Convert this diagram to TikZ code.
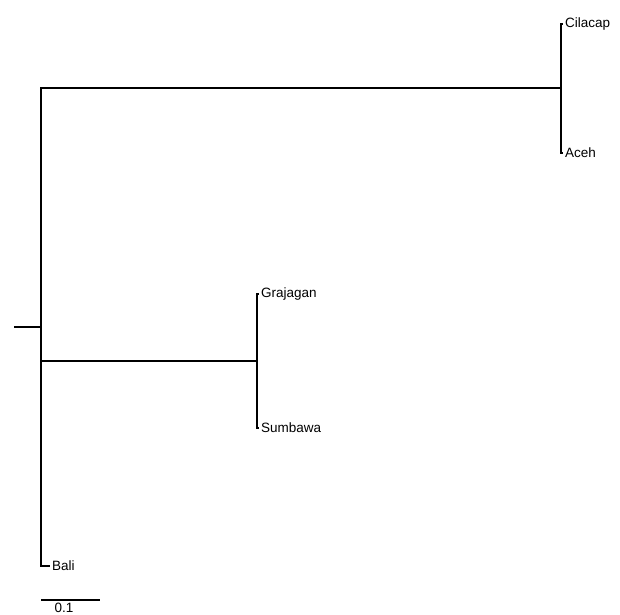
\documentclass[tikz,border=0pt]{standalone}
\usepackage{fontspec}
\setmainfont{Liberation Sans}
\begin{document}
\begin{tikzpicture}[x=1pt,y=1pt,yscale=-1,xscale=1,
  branch/.style={line width=1.3pt},
  leaf/.style={anchor=west, inner sep=2pt, font=\fontsize{13.5}{16}\selectfont}]
\useasboundingbox (0,0) rectangle (620,614);

%Root
\coordinate (stub) at (14,327);
\coordinate (root) at (41,327);
\draw [branch] (stub) -- (root) ;

%Inner nodes
\coordinate (n1) at (561,88);
\coordinate (n2) at (257,361);

%Leaves
\node [leaf] (cilacap) at (563,24) {Cilacap};
\node [leaf] (aceh) at (563,153) {Aceh};
\node [leaf] (grajagan) at (259,294) {Grajagan};
\node [leaf] (sumbawa) at (259,428) {Sumbawa};
\node [leaf] (bali) at (50,566) {Bali};

%Root branches
\draw [branch] (root) |- (n1) ;
\draw [branch] (root) |- (n2) ;
\draw [branch] (root) |- (bali.west) ;

%Cilacap & Aceh
\draw [branch] (n1) |- (cilacap.west) ;
\draw [branch] (n1) |- (aceh.west) ;

%Grajagan & Sumbawa
\draw [branch] (n2) |- (grajagan.west) ;
\draw [branch] (n2) |- (sumbawa.west) ;

%Scale bar
\coordinate (sbl) at (41,600);
\coordinate (sbr) at (100,600);
\draw [branch] (sbl) -- (sbr) ;
\node [font=\fontsize{13.5}{16}\selectfont, inner sep=0pt] (scale) at (64,608) {0.1};

\end{tikzpicture}
\end{document}
